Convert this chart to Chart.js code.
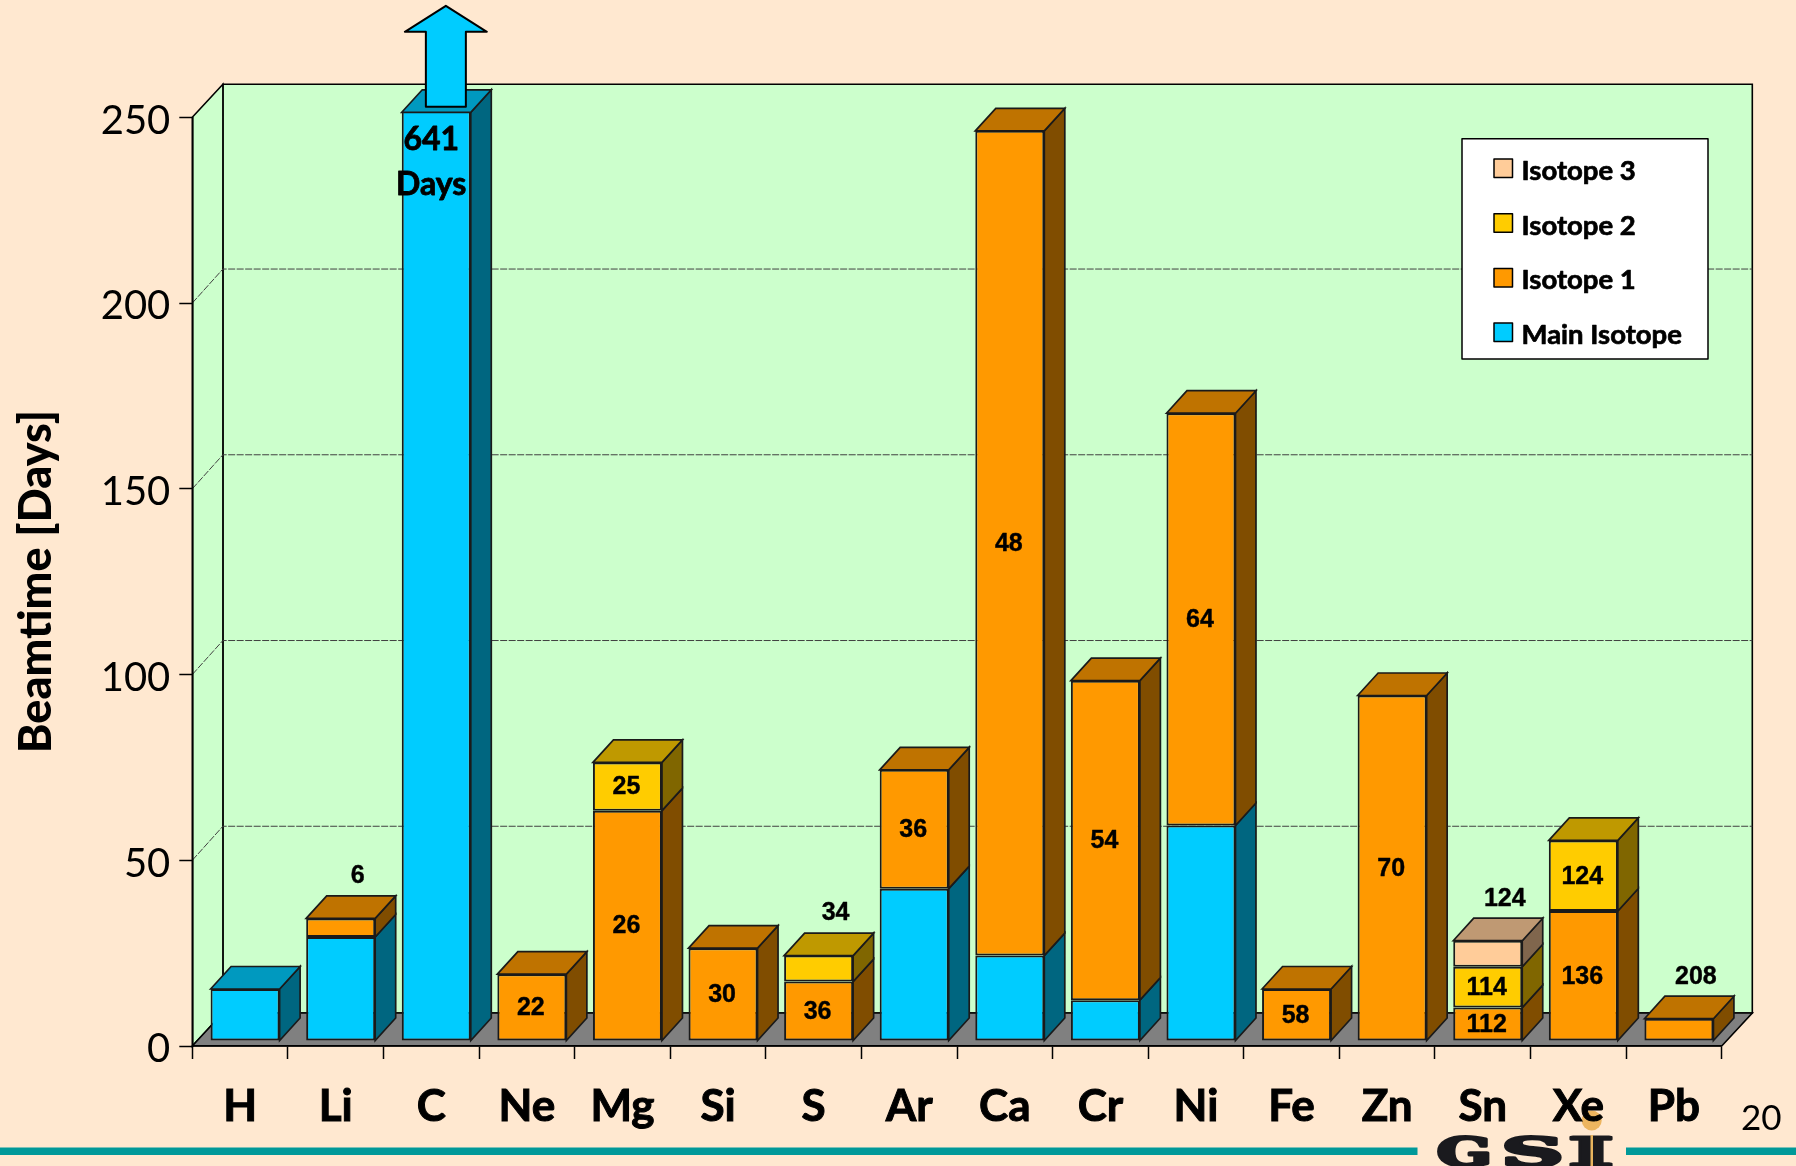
<!DOCTYPE html>
<html>
<head>
<meta charset="utf-8">
<title>Beamtime per element</title>
<script src="https://cdn.jsdelivr.net/npm/chart.js@4/dist/chart.umd.min.js"></script>
<style>
  html, body { margin: 0; padding: 0; background: #ffe8d0; }
  canvas { display: block; }
</style>
</head>
<body>
<canvas id="beamtime-chart" width="1796" height="1166"></canvas>
<script>
const elements = ["H", "Li", "C", "Ne", "Mg", "Si", "S", "Ar", "Ca", "Cr", "Ni", "Fe", "Zn", "Sn", "Xe", "Pb"];

const mainIsotope = [14, 28, 641, 0, 0, 0, 0, 41, 23, 11, 58, 0, 0, 0, 0, 0];
const isotope1 = [0, 5, 0, 18, 62, 25, 16, 32, 222, 86, 111, 14, 93, 9, 35, 6];
const isotope2 = [0, 0, 0, 0, 13, 0, 7, 0, 0, 0, 0, 0, 0, 11, 19, 0];
const isotope3 = [0, 0, 0, 0, 0, 0, 0, 0, 0, 0, 0, 0, 0, 7, 0, 0];

const mainLabels = ["", "", "", "", "", "", "", "", "", "", "", "", "", "", "", ""];
const isotope1Labels = ["", "6", "", "22", "26", "30", "36", "36", "48", "54", "64", "58", "70", "112", "136", "208"];
const isotope2Labels = ["", "", "", "", "25", "", "34", "", "", "", "", "", "", "114", "124", ""];
const isotope3Labels = ["", "", "", "", "", "", "", "", "", "", "", "", "", "124", "", ""];

const yTicks = [0, 50, 100, 150, 200, 250];
const offScaleNote = ["641", "Days"];

const PAGE_BG = "#ffe8d0";
const WALL = "#ccffcc";
const FLOOR = "#808080";
const TEAL = "#009999";

// box depth of the walls and of the bars, plus how far bars sit behind the front edge
const WALL_DX = 30.6, WALL_DY = 33;
const BAR_DX = 20.5, BAR_DY = 22.5;
const INSET = 5;

const shade = (hex, f) => {
  const n = parseInt(hex.slice(1), 16);
  const c = [(n >> 16) & 255, (n >> 8) & 255, n & 255].map((v) => Math.round(v * f));
  return `rgb(${c[0]}, ${c[1]}, ${c[2]})`;
};

const poly = (ctx, pts, fill, stroke, lw) => {
  ctx.beginPath();
  pts.forEach((p, i) => (i ? ctx.lineTo(p[0], p[1]) : ctx.moveTo(p[0], p[1])));
  ctx.closePath();
  if (fill) {
    ctx.fillStyle = fill;
    ctx.fill();
  }
  if (stroke) {
    ctx.strokeStyle = stroke;
    ctx.lineWidth = lw;
    ctx.stroke();
  }
};

// fill plus a hairline stroke, the installed bold faces run a little light
const heavyText = (ctx, text, x, y, weight) => {
  ctx.fillStyle = "#000";
  ctx.strokeStyle = "#000";
  ctx.lineWidth = weight;
  ctx.lineJoin = "round";
  ctx.strokeText(text, x, y);
  ctx.fillText(text, x, y);
};

const drawWalls = (chart) => {
  const { ctx, chartArea: a, scales } = chart;
  const { left: l, right: r, top: t, bottom: b } = a;
  const dx = WALL_DX, dy = WALL_DY;
  ctx.save();
  ctx.fillStyle = PAGE_BG;
  ctx.fillRect(0, 0, chart.width, chart.height);

  // logo dot sits under the axis labels
  ctx.fillStyle = "#edb55f";
  ctx.beginPath();
  ctx.arc(1591.7, 1120.5, 10, 0, Math.PI * 2);
  ctx.fill();

  poly(ctx, [[l + dx, t - dy], [r + dx, t - dy], [r + dx, b - dy], [l + dx, b - dy]], WALL, "#000", 1.6);
  poly(ctx, [[l, t], [l + dx, t - dy], [l + dx, b - dy], [l, b]], WALL, "#000", 1.6);
  poly(ctx, [[l, b], [l + dx, b - dy], [r + dx, b - dy], [r, b]], FLOOR, "#000", 1.6);

  ctx.strokeStyle = "#404040";
  ctx.lineWidth = 1;
  ctx.setLineDash([7, 1.5]);
  yTicks.slice(1, -1).forEach((v) => {
    const y = scales.y.getPixelForValue(v);
    ctx.beginPath();
    ctx.moveTo(l, y);
    ctx.lineTo(l + dx, y - dy - 1);
    ctx.lineTo(r + dx, y - dy - 1);
    ctx.stroke();
  });
  ctx.restore();
};

const drawBarFaces = (chart) => {
  const { ctx, chartArea: a } = chart;
  const dx = BAR_DX, dy = BAR_DY;
  elements.forEach((_, i) => {
    let topEl = null, topColor = null;
    chart.data.datasets.forEach((ds, d) => {
      if (!ds.data[i]) return;
      const el = chart.getDatasetMeta(d).data[i];
      const right = el.x + el.width / 2;
      const y = Math.max(el.y, a.top);
      poly(ctx, [[right, y], [right + dx, y - dy], [right + dx, el.base - dy], [right, el.base]],
        shade(ds.backgroundColor, 0.5), "#1a1a1a", 1.7);
      topEl = el;
      topColor = ds.backgroundColor;
    });
    const left = topEl.x - topEl.width / 2, right = topEl.x + topEl.width / 2;
    const y = Math.max(topEl.y, a.top);
    poly(ctx, [[left, y], [left + dx, y - dy], [right + dx, y - dy], [right, y]],
      shade(topColor, 0.75), "#1a1a1a", 1.7);
  });
};

const drawSegmentLabels = (chart) => {
  const { ctx } = chart;
  ctx.font = "bold 25px 'Liberation Sans'";
  ctx.textAlign = "center";
  ctx.textBaseline = "middle";
  chart.data.datasets.forEach((ds, d) => {
    ds.segmentLabels.forEach((text, i) => {
      if (!text) return;
      const el = chart.getDatasetMeta(d).data[i];
      // thin segments carry their number above the box
      if (ds.data[i] < 8) heavyText(ctx, text, el.x + 17, el.y - BAR_DY - 19.5, 0.4);
      else heavyText(ctx, text, el.x - 1, (el.y + el.base) / 2 + 1, 0.4);
    });
  });
};

const drawOffScale = (chart) => {
  const { ctx, chartArea: a, scales } = chart;
  const cx = scales.x.getPixelForValue(2);
  ctx.font = "bold 32px Lato";
  ctx.textAlign = "center";
  ctx.textBaseline = "middle";
  offScaleNote.forEach((t, i) => heavyText(ctx, t, cx, a.top + 22 + i * 45, 0.8));

  // arrow: the carbon bar runs off the axis
  const ax = cx + 14.6, bottom = a.top - 10.5;
  poly(ctx, [
    [ax - 20, bottom], [ax - 20, bottom - 75], [ax - 41, bottom - 75], [ax, bottom - 101],
    [ax + 41, bottom - 75], [ax + 20, bottom - 75], [ax + 20, bottom],
  ], "#00ccff", "#000", 2);
};

const drawLegend = (chart) => {
  const { ctx } = chart;
  ctx.save();
  ctx.fillStyle = "#fff";
  ctx.fillRect(1462, 138.7, 246, 220.3);
  ctx.strokeStyle = "#000";
  ctx.lineWidth = 1.5;
  ctx.strokeRect(1462, 138.7, 246, 220.3);
  ctx.font = "bold 27.5px Lato";
  ctx.textAlign = "left";
  ctx.textBaseline = "middle";
  [...chart.data.datasets].reverse().forEach((ds, i) => {
    const y = 159 + i * 54.7;
    ctx.fillStyle = ds.backgroundColor;
    ctx.strokeStyle = "#000";
    ctx.lineWidth = 1.5;
    ctx.fillRect(1494, y, 18.5, 18.5);
    ctx.strokeRect(1494, y, 18.5, 18.5);
    heavyText(ctx, ds.label, 1521.5, y + 12, 0.7);
  });
  ctx.restore();
};

const drawFooter = (chart) => {
  const { ctx } = chart;
  ctx.save();
  ctx.fillStyle = TEAL;
  ctx.fillRect(0, 1147.5, 1417.5, 7.5);
  ctx.fillRect(1626, 1147.5, 170, 7.5);

  ctx.fillStyle = "#000";
  ctx.font = "35px Lato";
  ctx.textAlign = "left";
  ctx.textBaseline = "middle";
  ctx.fillText("20", 1741, 1119);

  // GSI logotype, wide slab letters
  ctx.fillStyle = "#1a1a1e";
  ctx.strokeStyle = "#1a1a1e";
  ctx.lineWidth = 3;
  ctx.font = "bold 40px 'DejaVu Serif'";
  ctx.textAlign = "center";
  ctx.textBaseline = "alphabetic";
  [["G", 1464.5, 1.62], ["S", 1532.5, 2.15], ["I", 1591, 2.4]].forEach(([t, x, sx]) => {
    ctx.save();
    ctx.translate(x, 1166);
    ctx.scale(sx, 1);
    ctx.strokeText(t, 0, 0);
    ctx.fillText(t, 0, 0);
    ctx.restore();
  });
  ctx.fillStyle = "#e8b45e";
  ctx.fillRect(1590.5, 1135, 2.5, 31);
  ctx.restore();
};

const boxPlugin = {
  id: "box",
  beforeDraw: drawWalls,
  beforeDatasetsDraw(chart) {
    chart.ctx.save();
    chart.ctx.translate(INSET, -INSET);
  },
  afterDatasetsDraw(chart) {
    drawBarFaces(chart);
    drawSegmentLabels(chart);
    chart.ctx.restore();
    drawOffScale(chart);
    drawLegend(chart);
  },
  afterDraw: drawFooter,
};

const bar = (label, data, color, segmentLabels) => ({
  label,
  data,
  segmentLabels,
  backgroundColor: color,
  borderColor: "#1a1a1a",
  borderWidth: 2,
  borderSkipped: false,
  inflateAmount: 0,
  barPercentage: 0.722,
  categoryPercentage: 1,
});

new Chart(document.getElementById("beamtime-chart"), {
  type: "bar",
  data: {
    labels: elements,
    datasets: [
      bar("Main Isotope", mainIsotope, "#00ccff", mainLabels),
      bar("Isotope 1", isotope1, "#ff9900", isotope1Labels),
      bar("Isotope 2", isotope2, "#ffcc00", isotope2Labels),
      bar("Isotope 3", isotope3, "#ffcc99", isotope3Labels),
    ],
  },
  options: {
    responsive: false,
    animation: false,
    layout: { padding: { top: 117.3, right: 74.3, left: 0, bottom: 0 } },
    plugins: { legend: { display: false }, tooltip: { enabled: false } },
    scales: {
      x: {
        stacked: true,
        afterFit: (s) => { s.height = 120; },
        grid: { drawOnChartArea: false, color: "#000", tickLength: 13, tickWidth: 1.5 },
        border: { color: "#000", width: 1.6 },
        ticks: {
          autoSkip: false,
          maxRotation: 0,
          padding: 21,
          color: "#000",
          textStrokeColor: "#000",
          textStrokeWidth: 1,
          font: { family: "Lato", weight: "bold", size: 44 },
        },
      },
      y: {
        stacked: true,
        min: 0,
        max: 250,
        afterFit: (s) => { s.width = 192.3; },
        afterBuildTicks: (s) => { s.ticks = yTicks.map((value) => ({ value })); },
        grid: { drawOnChartArea: false, color: "#000", tickLength: 13, tickWidth: 1.5 },
        border: { color: "#000", width: 1.6 },
        ticks: {
          padding: 9,
          labelOffset: 3.5,
          color: "#000",
          font: { family: "Lato", size: 40 },
        },
        title: {
          display: true,
          text: "Beamtime [Days]",
          color: "#000",
          padding: { top: 9, bottom: 0 },
          font: { family: "Lato", weight: "900", size: 45 },
        },
      },
    },
  },
  plugins: [boxPlugin],
});
</script>
</body>
</html>
